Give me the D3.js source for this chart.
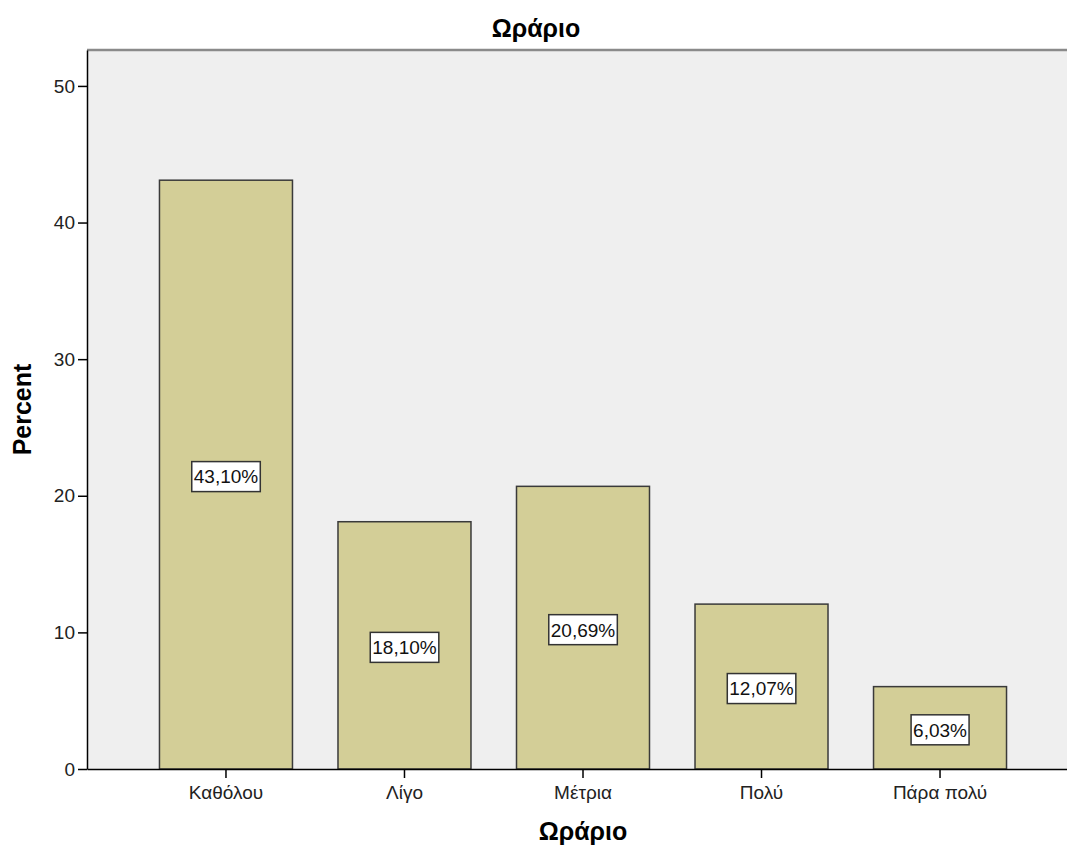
<!DOCTYPE html>
<html>
<head>
<meta charset="utf-8">
<script src="https://cdn.jsdelivr.net/npm/d3@7"></script>
<style>
  html, body { margin: 0; padding: 0; background: #ffffff; }
  svg { display: block; font-family: "Liberation Sans", Arial, sans-serif; }
</style>
</head>
<body>
<svg id="chart" width="1067" height="850"></svg>
<script>
// Response categories and their percentages
const categories = ["Καθόλου", "Λίγο", "Μέτρια", "Πολύ", "Πάρα πολύ"];
const percents = [43.10, 18.10, 20.69, 12.07, 6.03];
const yTicks = [0, 10, 20, 30, 40, 50];
const chartTitle = "Ωράριο";
const xTitle = "Ωράριο";
const yTitle = "Percent";

const svg = d3.select("#chart");
const plot = { left: 87, right: 1079, top: 50, bottom: 769 };

const x = d3.scaleBand()
  .domain(categories)
  .range([plot.left, plot.right])
  .paddingInner(0.255)
  .paddingOuter(0.406);

const y = d3.scaleLinear()
  .domain([0, 52.63])
  .range([plot.bottom, plot.top]);

const locale = d3.formatLocale({ decimal: ",", thousands: ".", grouping: [3], currency: ["", "€"] });
const pct = v => locale.format(".2f")(v) + "%";

// plot background
svg.append("rect")
  .attr("x", plot.left).attr("y", plot.top)
  .attr("width", plot.right - plot.left).attr("height", plot.bottom - plot.top)
  .attr("fill", "#efefef");

// top frame line
svg.append("line")
  .attr("x1", plot.left).attr("x2", plot.right)
  .attr("y1", plot.top).attr("y2", plot.top)
  .attr("stroke", "#8a8a8a").attr("stroke-width", 2.5);

// bars
svg.append("g").selectAll("rect")
  .data(categories)
  .join("rect")
  .attr("x", d => x(d))
  .attr("y", (d, i) => y(percents[i]))
  .attr("width", x.bandwidth())
  .attr("height", (d, i) => y(0) - y(percents[i]))
  .attr("fill", "#d3ce97")
  .attr("stroke", "#3a3a3a")
  .attr("stroke-width", 1.5);

// y axis
const yAxis = svg.append("g")
  .attr("transform", `translate(${plot.left},0)`)
  .call(d3.axisLeft(y).tickValues(yTicks).tickSize(9).tickSizeOuter(0).tickPadding(3));
yAxis.select(".domain").attr("stroke", "#000").attr("stroke-width", 1.5);
yAxis.selectAll(".tick line").attr("stroke", "#000").attr("stroke-width", 1.5);
yAxis.selectAll(".tick text").attr("font-size", 19).attr("fill", "#222")
  .attr("font-family", "'Liberation Sans', Arial, sans-serif");

// x axis
const xAxis = svg.append("g")
  .attr("transform", `translate(0,${plot.bottom})`)
  .call(d3.axisBottom(x).tickSize(9).tickSizeOuter(0).tickPadding(8));
xAxis.select(".domain").attr("stroke", "#000").attr("stroke-width", 1.5);
xAxis.selectAll(".tick line").attr("stroke", "#000").attr("stroke-width", 1.5);
xAxis.selectAll(".tick text").attr("font-size", 19).attr("fill", "#222")
  .attr("font-family", "'Liberation Sans', Arial, sans-serif");

// value labels in boxes at mid-height of each bar
const labels = svg.append("g").selectAll("g")
  .data(categories)
  .join("g")
  .attr("transform", (d, i) => `translate(${x(d) + x.bandwidth() / 2},${y(percents[i] / 2) + 2})`);
labels.append("rect").attr("class", "box");
labels.append("text")
  .attr("text-anchor", "middle")
  .attr("dy", "0.36em")
  .attr("font-size", 19)
  .attr("fill", "#111")
  .text((d, i) => pct(percents[i]));
labels.each(function () {
  const g = d3.select(this);
  const bb = g.select("text").node().getBBox();
  g.select("rect.box")
    .attr("x", bb.x - 2).attr("y", -15)
    .attr("width", bb.width + 4).attr("height", 30)
    .attr("fill", "#ffffff").attr("stroke", "#333").attr("stroke-width", 1.5);
});

// titles
svg.append("text")
  .attr("x", 536).attr("y", 37)
  .attr("text-anchor", "middle")
  .attr("font-size", 25).attr("font-weight", "bold")
  .text(chartTitle);

svg.append("text")
  .attr("x", (x(categories[0]) + x(categories[categories.length - 1]) + x.bandwidth()) / 2)
  .attr("y", 840)
  .attr("text-anchor", "middle")
  .attr("font-size", 25).attr("font-weight", "bold")
  .text(xTitle);

svg.append("text")
  .attr("transform", `translate(31,${(plot.top + plot.bottom) / 2}) rotate(-90)`)
  .attr("text-anchor", "middle")
  .attr("font-size", 25).attr("font-weight", "bold")
  .text(yTitle);
</script>
</body>
</html>
